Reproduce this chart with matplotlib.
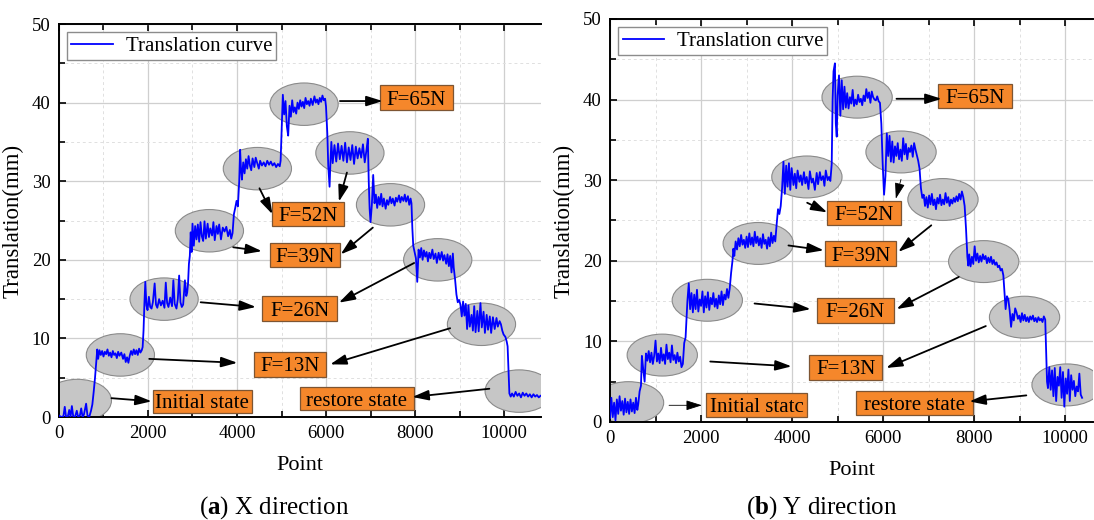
import matplotlib
matplotlib.use('Agg')
import matplotlib.pyplot as plt
from matplotlib.patches import Ellipse, Rectangle

plt.rcParams['font.family'] = ['Liberation Serif', 'DejaVu Serif']
plt.rcParams['mathtext.fontset'] = 'custom'
plt.rcParams['mathtext.rm'] = 'Liberation Serif'
plt.rcParams['mathtext.bf'] = 'Liberation Serif:bold'

# ---------------- data ----------------
# (a) X direction
x_a = [0, 50, 100, 130, 160, 200, 230, 260, 290, 320, 360, 400, 430, 470, 500, 530, 560, 610, 640, 680,
       720, 750, 780, 810, 840, 860,
       880, 910, 940, 970, 1000, 1030, 1060, 1090, 1120, 1150, 1180, 1210, 1240, 1270, 1300, 1330, 1360,
       1400, 1440, 1470, 1500, 1530, 1560, 1590, 1620, 1650, 1680, 1710, 1740, 1770, 1800, 1830, 1860, 1880,
       1900, 1920, 1940, 1965, 1990, 2020, 2050, 2080, 2110, 2150, 2180, 2210, 2250, 2290, 2330, 2370, 2400,
       2430, 2460, 2500, 2540, 2570, 2600, 2640, 2670, 2700, 2730, 2760, 2790, 2830, 2860, 2880,
       2900, 2920, 2940, 2960,
       2980, 3000, 3030, 3060, 3090, 3120, 3150, 3180, 3210, 3240, 3270, 3300, 3340, 3370, 3400, 3440, 3470,
       3500, 3540, 3570, 3600, 3640, 3680, 3720, 3760, 3800, 3840, 3870, 3900,
       3930, 3960, 3990, 4020, 4050, 4070,
       4090, 4110, 4140, 4170, 4200, 4230, 4260, 4290, 4320, 4350, 4390, 4420, 4460, 4490, 4520, 4560, 4600,
       4640, 4680, 4720, 4760, 4800, 4840, 4880, 4920, 4960, 4980,
       5000, 5030, 5060, 5090, 5120, 5150, 5180, 5210,
       5240, 5270, 5300, 5330, 5360, 5390, 5420, 5450, 5480, 5510, 5540, 5570, 5600, 5630, 5660, 5700, 5740,
       5770, 5800, 5830, 5860, 5890, 5920, 5950, 5980,
       6000, 6030, 6050, 6080, 6100,
       6120, 6150, 6190, 6230, 6270, 6310, 6350, 6390, 6430, 6470, 6510, 6550, 6590, 6630, 6670, 6710, 6750,
       6790, 6830, 6870, 6910, 6940, 6960, 6980, 7000, 7030, 7060, 7090,
       7120, 7150, 7180, 7210, 7240, 7270, 7300, 7340, 7370, 7400, 7440, 7470, 7500, 7540, 7570, 7600, 7640,
       7670, 7700, 7740, 7770, 7800, 7840, 7870, 7900, 7920,
       7940, 7960, 7990, 8020, 8050, 8080,
       8110, 8140, 8170, 8200, 8230, 8260, 8290, 8320, 8350, 8390, 8420, 8460, 8490, 8530, 8560, 8600, 8630,
       8660, 8700, 8730, 8760, 8790, 8820, 8850, 8870,
       8900, 8930, 8960, 8990,
       9020, 9050, 9080, 9110, 9140, 9170, 9200, 9230, 9270, 9300, 9330, 9360, 9400, 9430, 9470, 9500, 9540,
       9570, 9610, 9640, 9680, 9710, 9750, 9790, 9830, 9860, 9900, 9930, 9960, 9990, 10030, 10060,
       10080, 10100, 10120, 10150,
       10180, 10220, 10260, 10300, 10340, 10380, 10420, 10460, 10500, 10540, 10580, 10620, 10660, 10700,
       10740, 10780, 10820]
y_a = [0.2, 0.0, 0.1, 1.3, 0.0, 0.1, 0.9, 0.0, 1.4, 0.1, 0.0, 0.8, 0.0, 0.2, 1.1, 0.0, 0.3, 1.7, 0.2, 0.0,
       0.8, 1.6, 3.2, 5.0, 7.2, 8.6,
       7.4, 8.5, 7.9, 8.4, 7.7, 8.3, 8.0, 8.6, 7.8, 8.2, 7.6, 8.4, 7.9, 8.1, 7.5, 8.3, 7.8,
       8.2, 7.4, 8.0, 7.0, 7.6, 6.9, 7.8, 8.4, 7.9, 8.6, 8.0, 8.5, 7.9, 8.7, 8.2, 8.5, 8.9,
       11.0, 14.5, 17.2, 14.2, 13.6, 15.3, 14.0, 13.8, 14.6, 17.0, 14.3, 13.9, 15.0, 14.2, 14.8, 13.9, 17.1,
       14.5, 14.0, 15.2, 14.1, 17.4, 14.4, 13.8, 15.0, 18.0, 14.6, 14.0, 14.3, 17.4, 15.4, 15.8,
       17.0, 19.5, 20.5, 23.5,
       21.0, 24.6, 21.8, 24.3, 22.6, 24.5, 22.3, 24.8, 23.0, 22.4, 24.9, 22.7, 24.6, 22.9, 24.0, 23.1, 24.8,
       22.5, 24.3, 23.3, 24.5, 22.6, 24.1, 23.6, 24.2, 23.0, 23.8, 22.7, 23.4,
       25.8, 26.6, 27.5, 26.8, 30.0, 34.0,
       31.5, 30.2, 32.4, 31.0, 32.8, 31.6, 33.2, 32.0, 31.4, 32.9, 31.8, 33.0, 32.2, 31.6, 32.6, 32.0, 32.4,
       31.9, 32.6, 32.1, 32.5, 32.0, 32.3, 31.8, 32.2, 31.9, 32.6,
       36.0, 41.0, 38.5, 40.2, 37.0, 35.8, 39.6, 38.2,
       40.3, 38.8, 39.4, 38.6, 40.0, 39.2, 40.3, 39.5, 40.1, 39.3, 40.6, 39.8, 40.2, 39.6, 40.5, 39.7, 40.8,
       40.0, 40.4, 39.8, 40.6, 40.1, 40.9, 40.3, 40.5,
       39.5, 36.0, 32.0, 29.3, 32.5,
       35.0, 32.3, 34.6, 32.5, 34.8, 32.8, 34.5, 32.6, 34.9, 32.4, 34.3, 32.7, 34.6, 32.2, 34.4, 32.9, 34.2,
       33.0, 34.7, 32.4, 34.0, 35.4, 30.0, 26.5, 24.8, 27.0, 30.8, 27.2,
       28.3, 26.6, 28.0, 27.0, 28.4, 26.8, 27.8, 26.5, 27.6, 27.0, 28.0, 27.2, 27.8, 26.9, 27.9, 27.4, 28.2,
       27.3, 28.0, 27.5, 28.3, 27.4, 28.1, 27.0, 27.8, 27.2,
       24.0, 21.8, 21.0, 20.2, 17.2, 21.3,
       20.3, 21.5, 20.0, 21.2, 20.4, 21.0, 19.8, 20.9, 20.2, 21.3, 20.1, 20.8, 19.6, 20.9, 20.0, 21.0, 19.9,
       20.6, 19.5, 20.7, 19.2, 20.5, 18.4, 20.8, 19.0,
       17.5, 15.6, 14.6, 14.9,
       14.3, 12.8, 14.7, 12.9, 14.4, 11.2, 14.2, 11.5, 13.0, 11.0, 14.1, 10.8, 13.5, 10.9, 14.5, 11.4, 13.4,
       10.7, 13.0, 11.1, 12.8, 10.7, 12.7, 11.2, 12.6, 11.5, 12.2, 11.8, 11.0, 10.5, 10.2, 9.6,
       9.0, 6.0, 3.0, 2.6,
       3.0, 2.6, 3.2, 2.7, 3.0, 2.5, 3.1, 2.7, 3.0, 2.6, 2.9, 2.5, 2.9, 2.6,
       2.8, 2.5, 2.7]

# (b) Y direction
x_b = [0, 30, 60, 90, 120, 150, 180, 210, 240, 270, 300, 330, 360, 390, 420, 450, 480, 510, 540, 570,
       600, 620, 650, 680, 700, 730, 760, 790,
       820, 850, 880, 910, 940, 970, 1000, 1030, 1060, 1090, 1120, 1150, 1180, 1210, 1240, 1270, 1300,
       1330, 1360, 1390, 1420, 1450, 1480, 1510, 1540, 1570, 1600, 1630, 1660,
       1700, 1730, 1760, 1790, 1820, 1850, 1880, 1910, 1940, 1970, 2000, 2030, 2060, 2090, 2120, 2150,
       2180, 2210, 2240, 2270, 2300, 2330, 2360, 2390, 2420, 2450, 2480, 2510, 2540, 2570, 2600, 2630,
       2660, 2690, 2710,
       2730, 2760, 2790, 2820, 2850, 2880, 2910, 2940, 2970, 3000, 3030, 3060, 3090, 3120, 3150, 3180,
       3210, 3240, 3270, 3300, 3330, 3360, 3390, 3420, 3450, 3480, 3510, 3540, 3570, 3600, 3630,
       3660, 3690, 3720, 3750, 3780,
       3810, 3840, 3870, 3900, 3930, 3960, 3990, 4030, 4060, 4090, 4120, 4160, 4190, 4220, 4260, 4290,
       4320, 4360, 4390, 4430, 4460, 4500, 4540, 4570, 4610, 4640, 4680, 4710, 4740, 4780, 4810, 4840, 4870,
       4890, 4910, 4940, 4960, 4980, 5000, 5030, 5060, 5090, 5120,
       5150, 5180, 5210, 5240, 5270, 5300, 5330, 5360, 5390, 5420, 5450, 5480, 5510, 5540, 5570, 5600,
       5630, 5660, 5690, 5720, 5750, 5780, 5810, 5840, 5870, 5900, 5930,
       5960, 5990, 6020, 6050, 6080,
       6110, 6140, 6170, 6200, 6230, 6260, 6290, 6320, 6350, 6380, 6410, 6440, 6470, 6500, 6530, 6560,
       6590, 6620, 6650, 6680, 6710, 6740, 6770, 6800,
       6830, 6860,
       6890, 6920, 6950, 6980, 7010, 7040, 7070, 7100, 7130, 7160, 7190, 7220, 7250, 7280, 7310, 7340,
       7370, 7400, 7430, 7460, 7490, 7520, 7550, 7580, 7610, 7640, 7670, 7700, 7730, 7760, 7790,
       7820, 7850, 7870,
       7890, 7920, 7950, 7980, 8010, 8040, 8070, 8100, 8130, 8160, 8190, 8220, 8250, 8280, 8310, 8340,
       8370, 8400, 8430, 8460, 8490, 8520, 8550, 8580, 8610, 8640,
       8660, 8690, 8720, 8750, 8780, 8810, 8840, 8870, 8900,
       8930, 8960, 8990, 9020, 9050, 9080, 9110, 9140, 9170, 9200, 9230, 9260, 9290, 9320, 9350, 9380,
       9410, 9440, 9470, 9500, 9530, 9560,
       9580, 9600, 9620,
       9650, 9680, 9710, 9740, 9770, 9800, 9830, 9860, 9890, 9920, 9950, 9980, 10010, 10040, 10070,
       10100, 10130, 10160, 10190, 10220, 10250, 10280, 10310, 10340, 10370]
y_b = [0.5, 3.0, 0.6, 2.4, 0.2, 2.8, 1.0, 3.2, 1.4, 2.6, 0.9, 2.9, 1.2, 2.5, 1.0, 2.8, 1.3, 2.4, 1.1, 3.0,
       1.5, 2.2, 3.8, 4.5, 8.2, 6.5, 5.0, 8.5,
       7.6, 8.8, 7.4, 8.6, 7.2, 8.2, 10.1, 7.5, 8.5, 7.3, 9.2, 7.6, 8.4, 7.2, 9.6, 7.8, 8.6,
       7.4, 9.5, 7.7, 8.3, 7.3, 8.6, 7.5, 8.1, 6.8, 7.2, 9.8, 10.5,
       15.0, 17.2, 14.0, 16.0, 13.6, 15.8, 14.0, 16.4, 13.7, 15.2, 14.4, 16.2, 13.6, 15.6, 14.2, 16.1,
       13.9, 15.4, 14.6, 16.0, 14.3, 15.3, 14.1, 15.7, 14.6, 16.2, 14.5, 15.8, 15.2, 16.5, 15.4, 16.6,
       18.5, 20.0, 21.5,
       20.6, 22.4, 21.4, 22.8, 21.8, 23.2, 22.0, 22.6, 21.6, 23.0, 21.7, 23.4, 22.0, 22.9, 21.8, 23.6,
       22.2, 23.0, 21.9, 22.8, 21.6, 23.3, 22.1, 22.6, 21.5, 22.9, 21.8, 23.5, 22.2, 23.1, 22.4,
       24.5, 26.4, 25.8, 26.8, 29.0,
       32.3, 28.3, 31.8, 29.2, 32.1, 28.8, 31.5, 29.4, 30.8, 29.0, 31.2, 29.8, 30.6, 29.4, 31.0, 29.6,
       30.4, 28.9, 31.1, 29.7, 30.2, 28.8, 30.9, 29.5, 31.0, 30.0, 30.5, 29.3, 31.2, 30.0, 30.4, 29.9, 32.0,
       40.0, 43.5, 44.5, 37.0, 35.4, 40.5, 43.0, 38.0, 42.4, 38.8,
       41.6, 39.0, 40.8, 38.9, 40.3, 39.5, 41.2, 39.2, 40.0, 39.4, 40.6, 39.7, 40.1, 39.3, 40.5, 39.8,
       41.3, 40.2, 40.9, 39.6, 41.0, 40.3, 40.0, 39.9, 40.4, 39.8, 39.6,
       37.0, 32.0, 28.2, 30.5, 35.8,
       33.0, 35.5, 32.3, 34.8, 32.2, 34.2, 33.0, 34.6, 32.6, 33.8, 32.4, 35.2, 33.2, 34.5, 32.6, 34.0,
       33.5, 34.3, 32.9, 34.6, 33.8, 33.1, 32.4, 31.4,
       29.0, 27.8,
       28.2, 26.8, 27.9, 26.6, 28.1, 27.0, 28.3, 26.9, 27.6, 26.4, 27.8, 27.1, 28.2, 26.9, 27.6, 27.0,
       28.4, 27.2, 27.9, 26.8, 27.6, 27.1, 27.8, 27.3, 28.0, 27.4, 28.3, 27.6, 28.6, 27.9, 26.8,
       24.0, 20.5, 19.4,
       20.8, 19.3, 20.5, 19.6, 21.8, 20.0, 20.9, 19.8, 20.6, 19.9, 20.8, 20.2, 20.6, 19.7, 20.4, 19.8,
       20.5, 19.6, 20.1, 19.5, 19.8, 19.2, 19.4, 18.8, 19.0, 18.2,
       16.5, 14.0, 15.6, 15.2, 13.8, 11.8, 13.4, 12.6, 14.1,
       13.6, 12.8, 13.2, 12.4, 13.5, 12.6, 13.3, 12.5, 13.0, 12.4, 13.1, 12.7, 13.2, 12.5, 12.9, 12.4,
       13.0, 12.6, 12.8, 12.4, 13.1, 12.7,
       9.0, 5.0, 4.2,
       6.8, 4.0, 6.4, 3.2, 6.7, 2.6, 5.6, 4.5, 6.8, 3.0, 6.2, 1.9, 5.4, 3.5, 6.5,
       2.6, 5.8, 4.0, 5.1, 3.2, 4.4, 3.8, 6.0, 3.4, 3.0]

x_ticks = [0, 2000, 4000, 6000, 8000, 10000]
y_ticks = [0, 10, 20, 30, 40, 50]

# ---------------- annotation layout ----------------
ell_a = [(413, 2.1), (1380, 7.9), (2362, 15.0), (3380, 23.7), (4458, 31.6), (5507, 39.8),
         (6537, 33.6), (7449, 27.0), (8510, 20.0), (9493, 11.8), (10340, 3.3)]
ell_b = [(407, 2.4), (1148, 8.3), (2137, 15.1), (3256, 22.15), (4325, 30.4), (5428, 40.3),
         (6393, 33.5), (7314, 27.6), (8209, 19.9), (9106, 13.0), (10040, 4.6)]

box_a = [('F=65N', 7210, 39.1, 8845, 42.2), ('F=52N', 4796, 24.3, 6407, 27.3),
         ('F=39N', 4741, 19.15, 6313, 22.1), ('F=26N', 4560, 12.2, 6250, 15.4),
         ('F=13N', 4379, 5.1, 5991, 8.3), ('Initial state', 2107, 0.5, 4340, 3.5),
         ('restore state', 5409, 0.85, 7980, 3.8)]
box_b = [('F=65N', 7194, 39.0, 8829, 41.9), ('F=52N', 4772, 24.5, 6392, 27.45),
         ('F=39N', 4722, 19.3, 6293, 22.4), ('F=26N', 4544, 12.3, 6240, 15.4),
         ('F=13N', 4376, 5.25, 5973, 8.35), ('Initial statc', 2110, 0.6, 4331, 3.6),
         ('restore state', 5395, 0.9, 7981, 3.9)]

# (tail, head, linewidth)
arr_a = [((6313, 40.2), (7272, 40.2), 1.3), ((4505, 29.1), (4796, 25.8), 1.3),
         ((6470, 31.1), (6289, 27.4), 1.3), ((3915, 21.6), (4560, 21.1), 1.3),
         ((7052, 24.1), (6329, 20.7), 1.3), ((3184, 14.6), (4426, 14.0), 1.3),
         ((7980, 19.6), (6289, 14.55), 1.3), ((2028, 7.4), (4009, 6.9), 1.3),
         ((8789, 11.3), (6093, 6.7), 1.3), ((1179, 2.4), (2083, 2.0), 1.3),
         ((9670, 3.6), (7940, 2.55), 1.3)]
arr_b = [((6293, 40.1), (7285, 40.1), 1.3), ((4331, 27.2), (4772, 26.0), 1.3),
         ((6392, 30.1), (6278, 27.7), 0.6), ((3920, 21.9), (4695, 21.3), 1.3),
         ((7057, 24.4), (6331, 21.1), 1.3), ((3175, 14.7), (4407, 14.0), 1.3),
         ((7662, 18.0), (6293, 14.0), 1.3), ((2202, 7.5), (3989, 6.9), 1.3),
         ((8255, 11.9), (6065, 6.7), 1.3), ((1297, 2.07), (2019, 2.07), 0.6),
         ((9145, 3.3), (7894, 2.55), 1.3)]


def draw_panel(ax, x, y, xmax, ells, ew, eh, boxes, arrows):
    ax.set_xlim(0, xmax)
    ax.set_ylim(0, 50)
    ax.set_xticks(x_ticks)
    ax.set_xticks(range(1000, int(xmax), 2000), minor=True)
    ax.set_yticks(y_ticks)
    ax.set_yticks(range(5, 50, 10), minor=True)
    ax.set_axisbelow(True)
    ax.grid(which='major', color='#cfcfcf', lw=0.9)
    ax.grid(which='minor', color='#e0e0e0', lw=0.7, ls=(0, (3, 3)))
    ax.tick_params(which='both', direction='in', top=True, right=False,
                   labelsize=13.5, width=1.2, pad=6)
    ax.tick_params(which='major', length=5)
    ax.tick_params(which='minor', length=4)
    for s in ['left', 'bottom', 'top']:
        ax.spines[s].set_linewidth(1.4)
    ax.spines['right'].set_visible(False)

    for cx, cy in ells:
        ax.add_patch(Ellipse((cx, cy), ew, eh, facecolor='#c6c6c6',
                             edgecolor='#8a8a8a', lw=0.8, zorder=2))
    ax.plot(x, y, color='#0000ff', lw=1.3, zorder=3, label='Translation curve')

    for txt, x0, y0, x1, y1 in boxes:
        ax.add_patch(Rectangle((x0, y0), x1 - x0, y1 - y0, facecolor='#f5872b',
                               edgecolor='#7d5533', lw=0.9, zorder=4))
        ax.text((x0 + x1) / 2, (y0 + y1) / 2, txt, fontsize=15, ha='center',
                va='center_baseline', zorder=5)
    for tail, head, lw in arrows:
        ax.annotate('', xy=head, xytext=tail, zorder=6,
                    arrowprops=dict(arrowstyle='-|>,head_length=0.7,head_width=0.22',
                                    color='black', lw=lw, shrinkA=0, shrinkB=0,
                                    mutation_scale=14))

    leg = ax.legend(loc='upper left', fontsize=15, fancybox=False, framealpha=1,
                    edgecolor='#8c8c8c', borderpad=0.2, borderaxespad=0.4,
                    handlelength=2.0, handletextpad=0.6)
    leg.get_frame().set_linewidth(1.0)
    ax.set_xlabel('Point', fontsize=16, labelpad=10)
    ax.set_ylabel('Translation(mm)', fontsize=16.5, labelpad=6)


fig = plt.figure(figsize=(10.94, 5.2), dpi=100)
ax1 = fig.add_axes([0.0539, 0.198, 0.4406, 0.7558])
ax2 = fig.add_axes([0.5576, 0.1885, 0.4415, 0.775])

draw_panel(ax1, x_a, y_a, 10830, ell_a, 1533, 5.4, box_a, arr_a)
draw_panel(ax2, x_b, y_b, 10610, ell_b, 1544, 5.2, box_b, arr_b)

fig.text(274 / 1094, 0.023, r'($\mathbf{a}$) X direction', fontsize=18, ha='center', va='center')
fig.text(822 / 1094, 0.023, r'($\mathbf{b}$) Y direction', fontsize=18, ha='center', va='center')

fig.savefig('out.png', dpi=100)
